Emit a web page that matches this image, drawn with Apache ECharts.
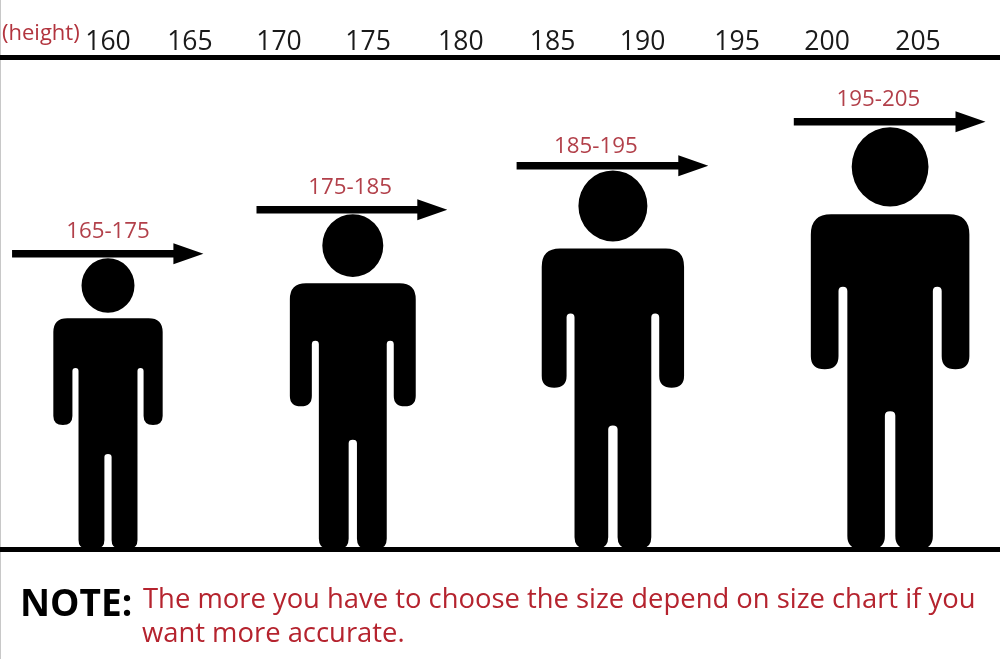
<!DOCTYPE html>
<html>
<head>
<meta charset="utf-8">
<style>html,body{margin:0;padding:0;background:#fff}#c{width:1000px;height:659px}</style>
<script src="https://cdn.jsdelivr.net/npm/echarts@6/dist/echarts.min.js"></script>
</head>
<body>
<div id="c"></div>
<script>
// Height scale read along the top ruler (cm)
var tickLabels = ['160','165','170','175','180','185','190','195','200','205'];
var tickPlaces = [160, 164.55, 169.5, 174.45, 179.6, 184.7, 189.7, 194.95, 199.95, 205];
// One figure per size band
var rangeLabels = ['165-175','175-185','185-195','195-205'];
var figurePlace = [160, 173.6, 188.05, 203.45];
var labelPlace  = [160, 173.45, 187.1, 202.8];
var labelLevel  = [176, 186, 195.3, 206];
var stature     = [170, 180, 189.95, 199.75];
var arrowLevel  = [171, 181, 191, 201];
var arrowStart  = [154.67, 168.25, 182.7, 198.1];
var arrowEnd    = [165.3, 178.85, 193.35, 208.75];
var axisFloor = 103.9;

var PICT_H = 291;
var PICT = 'M-40.7 -231L40.7 -231Q54.7 -231 54.7 -217L54.7 -133Q54.7 -124 45.1 -124Q35.6 -124 35.6 -133L35.6 -178Q35.6 -181 32.5 -181Q29.5 -181 29.5 -178'
  + 'L29.5 -9Q29.5 -1 22 0L11 0Q3.6 -1 3.6 -9L3.6 -92Q3.6 -95 0 -95Q-3.6 -95 -3.6 -92L-3.6 -9Q-3.6 -1 -11 0L-22 0Q-29.5 -1 -29.5 -9'
  + 'L-29.5 -178Q-29.5 -181 -32.5 -181Q-35.6 -181 -35.6 -178L-35.6 -133Q-35.6 -124 -45.1 -124Q-54.7 -124 -54.7 -133L-54.7 -217Q-54.7 -231 -40.7 -231Z'
  + 'M-26.5 -263.7A26.5 27.3 0 1 1 26.5 -263.7A26.5 27.3 0 1 1 -26.5 -263.7Z';

var rows = rangeLabels.map(function (t, i) {
  return [figurePlace[i], stature[i], arrowLevel[i], arrowStart[i], arrowEnd[i], labelPlace[i], labelLevel[i], t];
});

function renderFigure(params, api) {
  var foot = api.coord([api.value(0), axisFloor]);
  var top = api.coord([api.value(0), api.value(1)]);
  var s = (foot[1] - top[1]) / PICT_H;
  var a0 = api.coord([api.value(3), api.value(2)]);
  var a1 = api.coord([api.value(4), api.value(2)]);
  var lab = api.coord([api.value(5), api.value(6)]);
  var y = a0[1], hs = 3.8, hh = 10.5, hl = 30;
  return {
    type: 'group',
    children: [
      { type: 'path', x: foot[0], y: foot[1], scaleX: s, scaleY: s,
        shape: { pathData: PICT }, style: { fill: '#000' } },
      { type: 'polygon',
        shape: { points: [[a0[0], y - hs], [a1[0] - hl, y - hs], [a1[0] - hl, y - hh], [a1[0], y], [a1[0] - hl, y + hh], [a1[0] - hl, y + hs], [a0[0], y + hs]] },
        style: { fill: '#000' } },
      { type: 'text', x: lab[0], y: lab[1],
        style: { text: rangeLabels[params.dataIndex], fill: '#b2404a', fontFamily: 'Open Sans', fontSize: 22.3, align: 'center', verticalAlign: 'middle' } }
    ]
  };
}

var chart = echarts.init(document.getElementById('c'), null, { renderer: 'canvas' });
chart.setOption({
  animation: false,
  backgroundColor: '#fff',
  grid: { left: 0, right: 0, top: 57.5, bottom: 110 },
  title: [
    { text: '(height)', left: 2, top: 23, textStyle: { color: '#b2343e', fontFamily: 'Open Sans', fontSize: 22, fontWeight: 'normal' }, padding: 0 },
    { text: 'NOTE:', left: 20, top: 587, textStyle: { color: '#000', fontFamily: 'Open Sans', fontSize: 37, fontWeight: 'bold' }, padding: 0 },
    { text: 'The more you have to choose the size depend on size chart if you', left: 143, top: 587, textStyle: { color: '#b5232e', fontFamily: 'Open Sans', fontSize: 27.4, fontWeight: 'normal' }, padding: 0 },
    { text: 'want more accurate.', left: 142, top: 621, textStyle: { color: '#b5232e', fontFamily: 'Open Sans', fontSize: 27.4, fontWeight: 'normal' }, padding: 0 }
  ],
  xAxis: [
    { type: 'value', position: 'top', min: 154, max: 154 + 1000 / 18, splitLine: { show: false },
      axisLine: { show: true, lineStyle: { color: '#000', width: 5 } }, axisTick: { show: false },
      axisLabel: { show: true, customValues: tickPlaces, margin: 2, color: '#1a1a1a', fontFamily: 'Open Sans', fontSize: 26.5,
        formatter: function (v) { return tickLabels[tickPlaces.indexOf(v)]; } } },
    { type: 'value', position: 'bottom', min: 154, max: 154 + 1000 / 18, splitLine: { show: false },
      axisLine: { show: true, lineStyle: { color: '#000', width: 5 } }, axisTick: { show: false }, axisLabel: { show: false } }
  ],
  yAxis: { type: 'value', min: axisFloor, max: axisFloor + 491.5 / 4.4, show: false },
  series: [{ type: 'custom', xAxisIndex: 0, yAxisIndex: 0, clip: false, data: rows, renderItem: renderFigure, silent: true,
    encode: { x: 0, y: 1 } }],
  graphic: [{ type: 'rect', left: 0, top: 0, shape: { width: 1, height: 659 }, style: { fill: '#c8c8c8' }, silent: true }]
});
</script>
</body>
</html>
